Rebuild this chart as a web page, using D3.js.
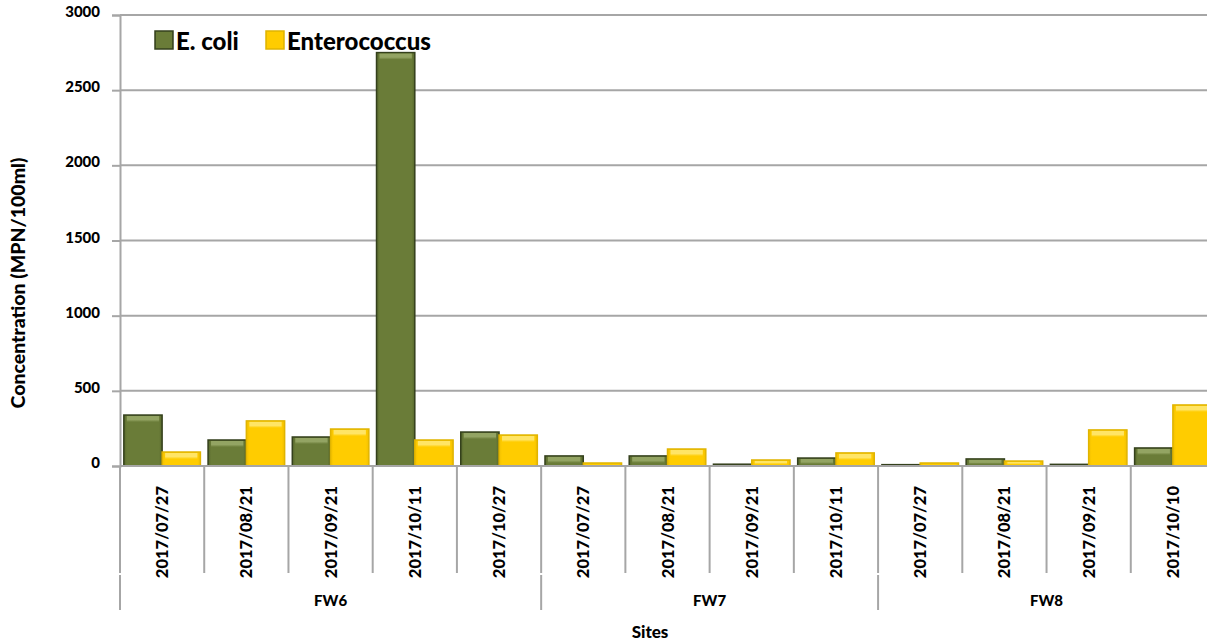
<!DOCTYPE html>
<html>
<head>
<meta charset="utf-8">
<script src="https://cdn.jsdelivr.net/npm/d3@7"></script>
<style>
  body { margin: 0; background: #fff; }
  text { font-family: Lato, "Open Sans", sans-serif; font-weight: 900; fill: #000; }
</style>
</head>
<body>
<div class="chart"></div>
<script>
// chart data
var sites = ["FW6", "FW7", "FW8"];
var siteCounts = [5, 4, 4];
var dates = ["2017/07/27", "2017/08/21", "2017/09/21", "2017/10/11", "2017/10/27",
             "2017/07/27", "2017/08/21", "2017/09/21", "2017/10/11",
             "2017/07/27", "2017/08/21", "2017/09/21", "2017/10/10"];
var ecoli = [339, 173, 193, 2750, 226, 67, 67, 12, 53, 9, 47, 11, 120];
var enterococcus = [93, 300, 246, 173, 206, 20, 113, 40, 87, 20, 33, 240, 406];
var yTicks = [0, 500, 1000, 1500, 2000, 2500, 3000];
var seriesNames = ["E. coli", "Enterococcus"];

var svgWidth = 1207;
var svgHeight = 644;
var plot = { left: 120, right: 1215, top: 15, bottom: 466 };

var svg = d3.select(".chart")
  .append("svg")
  .attr("width", svgWidth)
  .attr("height", svgHeight);

// side shading for the bars
var defs = svg.append("defs");
function sideShade(id, edge, main) {
  var g = defs.append("linearGradient").attr("id", id)
    .attr("x1", 0).attr("y1", 0).attr("x2", 1).attr("y2", 0);
  g.append("stop").attr("offset", "0%").attr("stop-color", edge);
  g.append("stop").attr("offset", "8%").attr("stop-color", main);
  g.append("stop").attr("offset", "92%").attr("stop-color", main);
  g.append("stop").attr("offset", "100%").attr("stop-color", edge);
}
sideShade("gGreen", "#56672c", "#6a7c38");
sideShade("gYellow", "#f2c000", "#ffcc00");

// top bevel fade
function topFade(id, light, main) {
  var g = defs.append("linearGradient").attr("id", id)
    .attr("x1", 0).attr("y1", 0).attr("x2", 0).attr("y2", 1);
  g.append("stop").attr("offset", "0%").attr("stop-color", light);
  g.append("stop").attr("offset", "60%").attr("stop-color", light);
  g.append("stop").attr("offset", "100%").attr("stop-color", main);
}
topFade("hGreen", "#93a463", "#6a7c38");
topFade("hYellow", "#ffe566", "#ffcc00");

var idx = d3.range(dates.length);

var x = d3.scaleBand()
  .domain(idx)
  .range([plot.left, plot.right]);

var xInner = d3.scaleBand()
  .domain([0, 1])
  .range([0, x.bandwidth()])
  .paddingOuter(0.1);

var y = d3.scaleLinear()
  .domain([0, 3000])
  .range([plot.bottom, plot.top]);

// gridlines
svg.append("g")
  .selectAll("line")
  .data(yTicks)
  .enter().append("line")
  .attr("x1", plot.left)
  .attr("x2", plot.right)
  .attr("y1", function(d) { return y(d); })
  .attr("y2", function(d) { return y(d); })
  .attr("stroke", "#a6a6a6")
  .attr("stroke-width", 2);

// y axis
var leftAxis = d3.axisLeft(y).tickValues(yTicks).tickFormat(d3.format("d")).tickSize(8).tickPadding(12);
var yAxis = svg.append("g")
  .attr("transform", "translate(" + plot.left + ",0)")
  .call(leftAxis);
yAxis.select(".domain").attr("stroke", "#a6a6a6").attr("stroke-width", 2);
yAxis.selectAll(".tick line").attr("stroke", "#a6a6a6").attr("stroke-width", 2);
yAxis.selectAll(".tick text").style("font-size", "15px").attr("dy", "0.1em");

// bars
var series = [
  { values: ecoli, fill: "url(#gGreen)", stroke: "#34401c", light: "url(#hGreen)" },
  { values: enterococcus, fill: "url(#gYellow)", stroke: "#e0b400", light: "url(#hYellow)" }
];
series.forEach(function(s, si) {
  var g = svg.append("g");
  g.selectAll("rect.bar")
    .data(idx)
    .enter().append("rect")
    .attr("class", "bar")
    .attr("x", function(i) { return x(i) + xInner(si); })
    .attr("y", function(i) { return y(s.values[i]); })
    .attr("width", xInner.bandwidth())
    .attr("height", function(i) { return y(0) - y(s.values[i]); })
    .attr("fill", s.fill)
    .attr("stroke", s.stroke)
    .attr("stroke-width", 1.5);
  // top highlight
  g.selectAll("rect.hl")
    .data(idx)
    .enter().append("rect")
    .attr("class", "hl")
    .attr("x", function(i) { return x(i) + xInner(si) + 3; })
    .attr("y", function(i) { return y(s.values[i]) + 1; })
    .attr("width", xInner.bandwidth() - 6)
    .attr("height", function(i) { return Math.max(0, Math.min(6, y(0) - y(s.values[i]) - 3)); })
    .attr("fill", s.light);
});

// x baseline
svg.append("line")
  .attr("x1", plot.left).attr("x2", plot.right)
  .attr("y1", y(0)).attr("y2", y(0))
  .attr("stroke", "#a6a6a6").attr("stroke-width", 2);

// category separators
var sepBounds = idx.map(function(i) { return x(i); });
svg.append("g")
  .selectAll("line")
  .data(sepBounds)
  .enter().append("line")
  .attr("x1", function(d) { return d; })
  .attr("x2", function(d) { return d; })
  .attr("y1", y(0))
  .attr("y2", 573)
  .attr("stroke", "#a6a6a6")
  .attr("stroke-width", 2);

// date labels
svg.append("g")
  .selectAll("text")
  .data(idx)
  .enter().append("text")
  .attr("transform", function(i) {
    return "translate(" + (x(i) + x.bandwidth() / 2 + 6) + ",486) rotate(-90)";
  })
  .attr("text-anchor", "end")
  .style("font-size", "16.5px")
  .text(function(i) { return dates[i]; });

// site groups
var starts = [];
var acc = 0;
siteCounts.forEach(function(c) { starts.push(acc); acc += c; });
var groupEdges = starts.map(function(s) { return x(s); }).concat([plot.right]);

svg.append("g")
  .selectAll("line")
  .data(groupEdges)
  .enter().append("line")
  .attr("x1", function(d) { return d; })
  .attr("x2", function(d) { return d; })
  .attr("y1", 575)
  .attr("y2", 610)
  .attr("stroke", "#a6a6a6")
  .attr("stroke-width", 2);

svg.append("g")
  .selectAll("text")
  .data(sites)
  .enter().append("text")
  .attr("x", function(d, k) { return (groupEdges[k] + groupEdges[k + 1]) / 2; })
  .attr("y", 606)
  .attr("text-anchor", "middle")
  .style("font-size", "15px")
  .text(function(d) { return d; });

// axis titles
svg.append("text")
  .attr("x", 650)
  .attr("y", 638)
  .attr("text-anchor", "middle")
  .style("font-size", "17px")
  .text("Sites");

svg.append("text")
  .attr("transform", "translate(25," + 283 + ") rotate(-90)")
  .attr("text-anchor", "middle")
  .style("font-size", "19.5px")
  .text("Concentration (MPN/100ml)");

// legend
var legendX = [155, 266];
var legend = svg.append("g");
seriesNames.forEach(function(name, k) {
  legend.append("rect")
    .attr("x", legendX[k])
    .attr("y", 31)
    .attr("width", 18)
    .attr("height", 18)
    .attr("fill", series[k].fill)
    .attr("stroke", series[k].stroke)
    .attr("stroke-width", 1.5);
  legend.append("text")
    .attr("x", legendX[k] + 21)
    .attr("y", 50)
    .style("font-size", "24px")
    .text(name);
});
</script>
</body>
</html>
